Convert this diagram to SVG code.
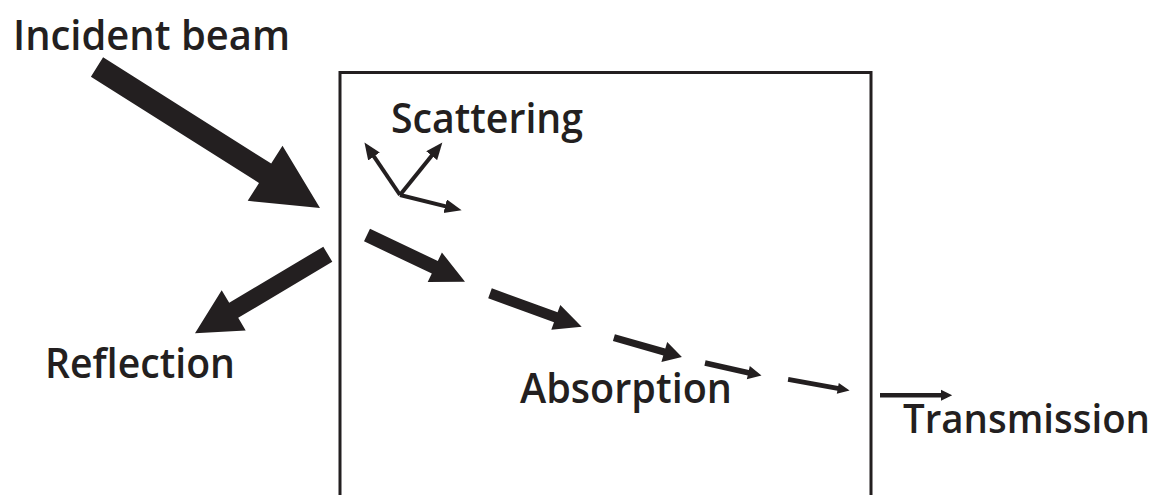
<svg xmlns="http://www.w3.org/2000/svg" width="1161" height="495" viewBox="0 0 1161 495">
  <style>
    .lbl { font-family: "Open Sans", "Noto Sans", "Liberation Sans", sans-serif; font-size: 42px; font-weight: 600; fill: #231f20; }
    .arr { fill: #231f20; stroke: none; }
    .thin { stroke: #231f20; stroke-width: 4; fill: none; }
    .box { fill: none; stroke: #231f20; stroke-width: 3; }
  </style>
  <defs>
    <marker id="head" markerUnits="userSpaceOnUse" markerWidth="19" markerHeight="15" refX="8" refY="7" orient="auto">
      <path d="M0,0 L17,7 L0,14 Z" fill="#231f20"/>
    </marker>
  </defs>
  <rect width="1161" height="495" fill="#ffffff"/>

  <g id="sample">
    <path class="box" d="M340,500 L340,72.5 L871,72.5 L871,500"/>
  </g>

  <g id="incident-beam">
    <text class="lbl" x="13" y="50" textLength="277" lengthAdjust="spacingAndGlyphs">Incident beam</text>
  </g>
  <g id="scattering">
    <text class="lbl" x="391" y="133" textLength="192" lengthAdjust="spacingAndGlyphs">Scattering</text>
  </g>
  <g id="reflection">
    <text class="lbl" x="45" y="378" textLength="190" lengthAdjust="spacingAndGlyphs">Reflection</text>
  </g>
  <g id="absorption">
    <text class="lbl" x="520" y="403" textLength="212" lengthAdjust="spacingAndGlyphs">Absorption</text>
  </g>
  <g id="transmission">
    <text class="lbl" x="903" y="433" style="font-size:40px" textLength="247" lengthAdjust="spacingAndGlyphs">Transmission</text>
  </g>

  <g id="connectors">
    <!-- incident -->
    <polygon class="arr" points="103.1,57.3 271.2,163.6 282.5,145.8 320,208 247.7,200.8 259.0,183.0 90.9,76.7"/>
    <!-- reflection -->
    <polygon class="arr" points="323.3,246.7 229.2,302.8 221.7,290.2 195,333.3 245.7,330.4 238.2,317.8 332.3,261.7"/>
    <!-- absorption chain -->
    <polygon class="arr" points="370,228.7 437.8,261.0 441.9,252.5 465,281.7 427.7,282.1 431.8,273.6 364,241.3"/>
    <polygon class="arr" points="491.8,288.3 557.6,312.3 560.3,304.9 581.7,326.7 551.3,329.7 554.0,322.3 488.2,298.3"/>
    <polygon class="arr" points="614.9,334.2 665.3,348.6 667.2,341.9 681.9,357 661.4,362.1 663.3,355.4 612.9,341.0"/>
    <polygon class="arr" points="705.6,360.3 748.9,370.0 749.8,366.1 761.5,375.6 746.8,379.3 747.7,375.4 704.4,365.7"/>
    <polygon class="arr" points="788.5,376.9 838.2,385.9 838.8,382.9 849.6,390.4 836.8,393.7 837.4,390.7 787.7,381.7"/>
    <!-- transmission -->
    <polygon class="arr" points="880,393 941,393 941,389.7 952.2,395.2 941,400.7 941,397.4 880,397.4"/>
    <!-- scattering -->
    <line class="thin" x1="400" y1="195" x2="369.5" y2="149.9" marker-end="url(#head)"/>
    <line class="thin" x1="400" y1="195" x2="436.7" y2="149.5" marker-end="url(#head)"/>
    <line class="thin" x1="400" y1="195" x2="452.9" y2="208.1" marker-end="url(#head)"/>
  </g>
</svg>
